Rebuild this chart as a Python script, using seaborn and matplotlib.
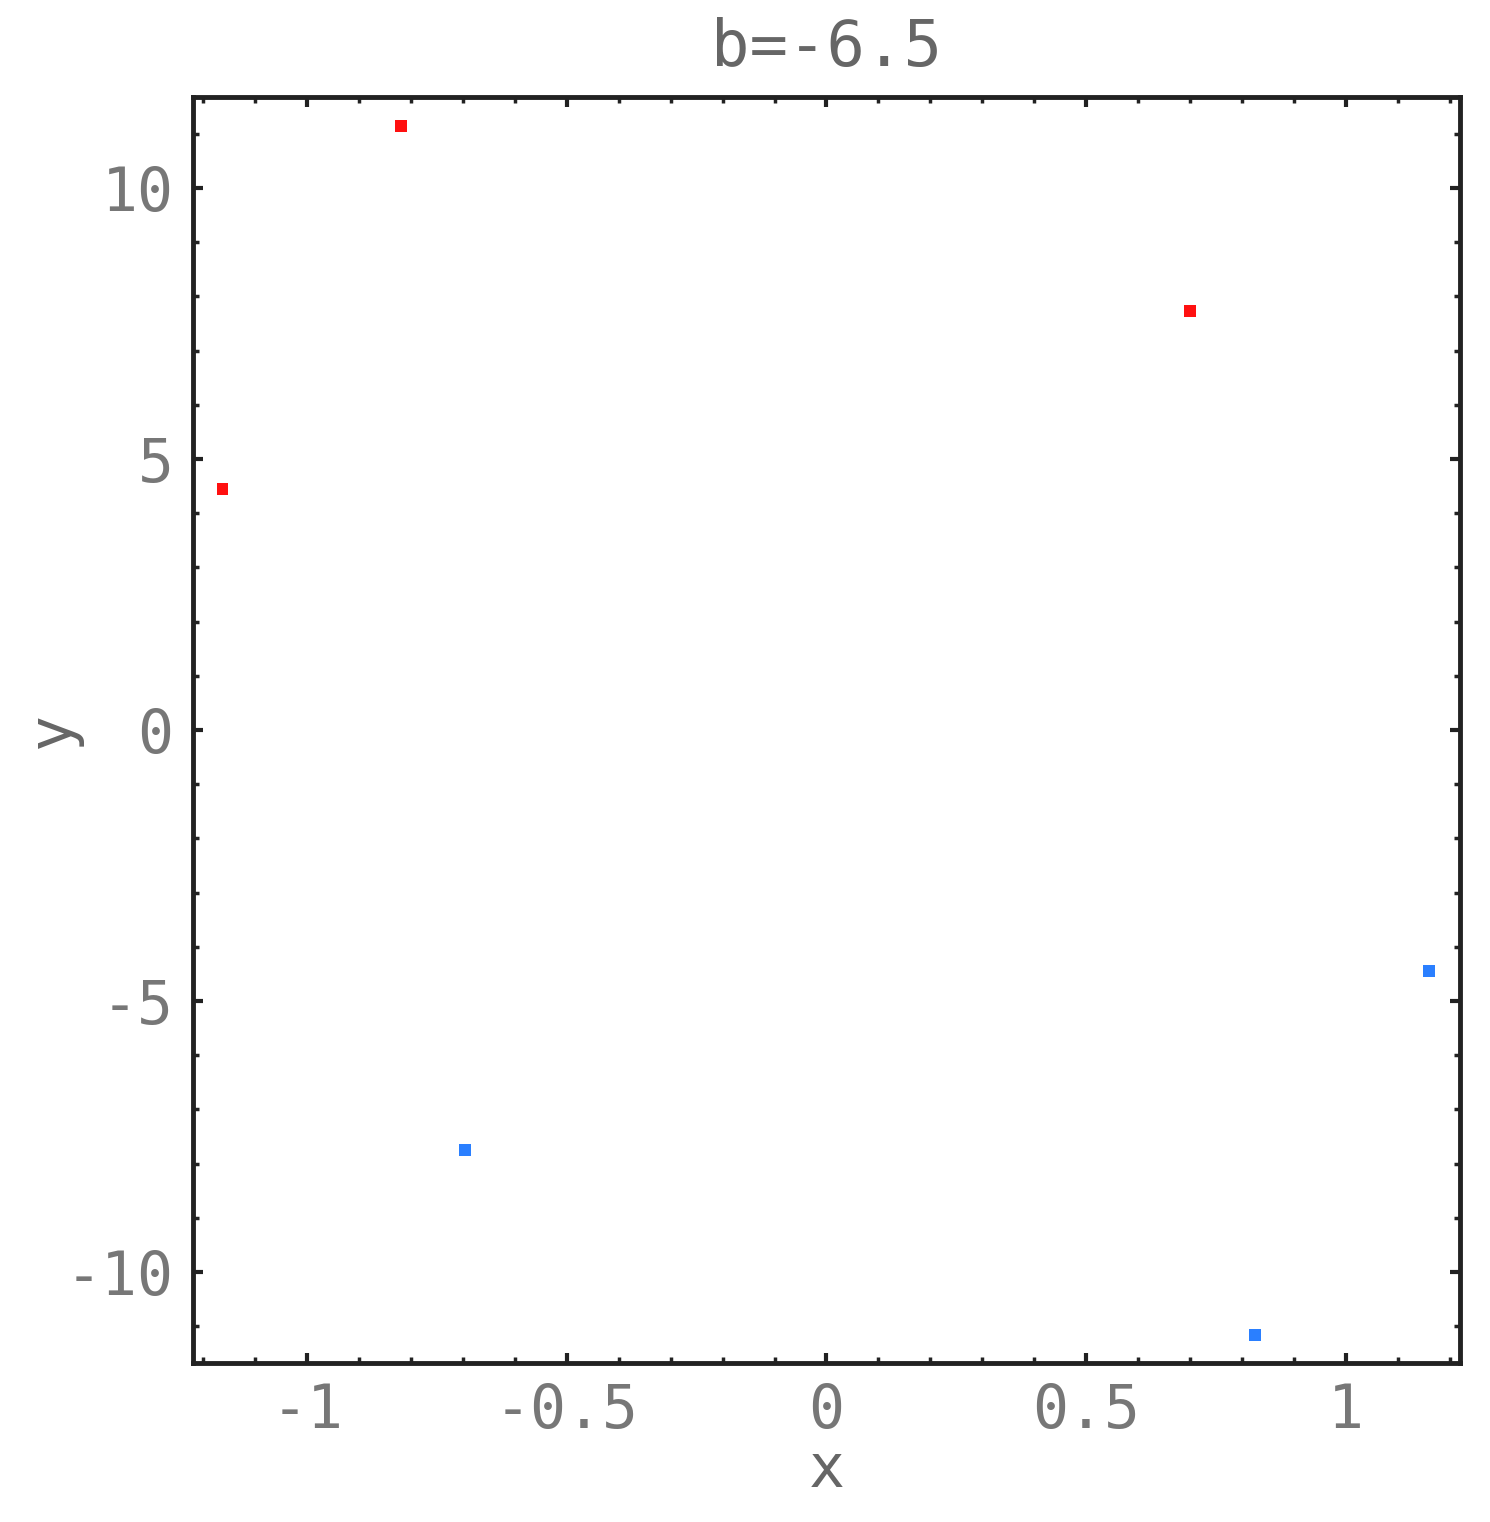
import numpy as np
import pandas as pd
import matplotlib
matplotlib.use("Agg")
import matplotlib.pyplot as plt
import seaborn as sns
from matplotlib.ticker import MultipleLocator

# points
x_red = [-1.163, -0.819, 0.700]
y_red = [4.45, 11.14, 7.73]
x_blue = [-0.696, 0.825, 1.160]
y_blue = [-7.75, -11.16, -4.45]

df = pd.DataFrame({
    "x": x_red + x_blue,
    "y": y_red + y_blue,
    "set": ["red"] * len(x_red) + ["blue"] * len(x_blue),
})

sns.set_style("ticks")
plt.rcParams['font.family'] = ['DejaVu Sans Mono']

fig = plt.figure(figsize=(14.9, 15.22), dpi=100)
ax = fig.add_axes([0.1295, 0.1045, 0.8503, 0.8318])

sns.scatterplot(data=df, x="x", y="y", hue="set",
                palette={"red": "#ff1010", "blue": "#2a7fff"},
                marker="s", s=70, linewidth=0, legend=False, ax=ax)

ax.set_xlim(-1.22, 1.22)
ax.set_ylim(-11.68, 11.68)
ax.xaxis.set_minor_locator(MultipleLocator(0.1))
ax.yaxis.set_minor_locator(MultipleLocator(1))
ax.set_xticks([-1, -0.5, 0, 0.5, 1])
ax.set_xticklabels(["-1", "-0.5", "0", "0.5", "1"])
ax.set_yticks([-10, -5, 0, 5, 10])
ax.set_yticklabels(["-10", "-5", "0", "5", "10"])

for s in ax.spines.values():
    s.set_visible(True)
    s.set_linewidth(3.5)
    s.set_color("#222222")

ax.tick_params(which="both", direction="in", top=True, right=True,
               color="#222222", labelcolor="#777777", labelsize=43, pad=14)
ax.tick_params(which="major", length=7, width=3)
ax.tick_params(which="minor", length=4, width=2.5)

ax.set_xlabel("x", fontsize=43, color="#666666", labelpad=0)
ax.set_ylabel("y", fontsize=43, color="#666666", labelpad=-12)
ax.set_title("b=-6.5", fontsize=46, color="#666666", pad=22)

fig.savefig("out.png", dpi=100, facecolor="white")
